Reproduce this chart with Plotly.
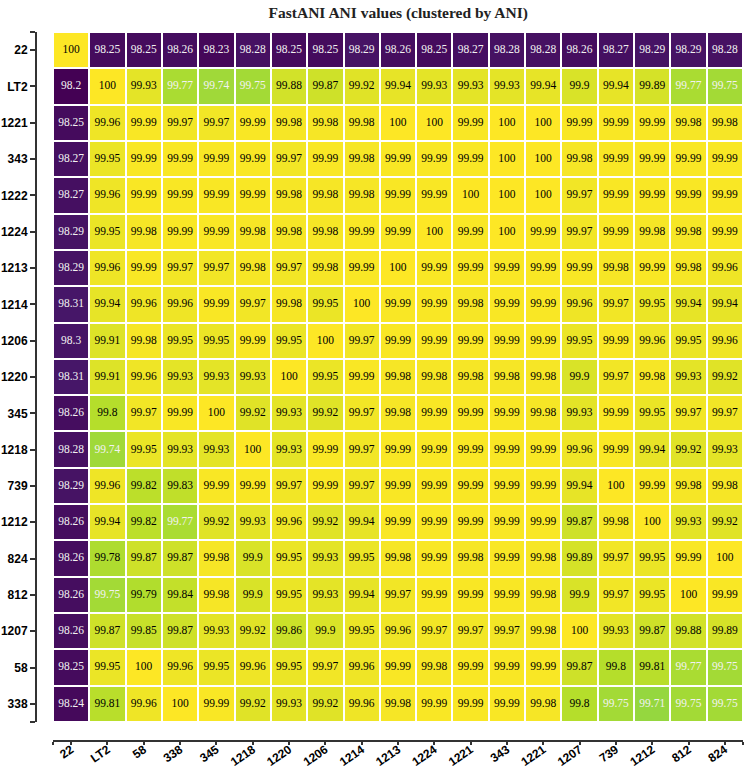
import plotly.graph_objects as go

col_labels = ["22", "LT2", "58", "338", "345", "1218", "1220", "1206", "1214", "1213",
              "1224", "1221", "343", "1221", "1207", "739", "1212", "812", "824"]
row_labels = ["22", "LT2", "1221", "343", "1222", "1224", "1213", "1214", "1206", "1220",
              "345", "1218", "739", "1212", "824", "812", "1207", "58", "338"]

ani_22   = [100, 98.25, 98.25, 98.26, 98.23, 98.28, 98.25, 98.25, 98.29, 98.26, 98.25, 98.27, 98.28, 98.28, 98.26, 98.27, 98.29, 98.29, 98.28]
ani_LT2  = [98.2, 100, 99.93, 99.77, 99.74, 99.75, 99.88, 99.87, 99.92, 99.94, 99.93, 99.93, 99.93, 99.94, 99.9, 99.94, 99.89, 99.77, 99.75]
ani_1221 = [98.25, 99.96, 99.99, 99.97, 99.97, 99.99, 99.98, 99.98, 99.98, 100, 100, 99.99, 100, 100, 99.99, 99.99, 99.99, 99.98, 99.98]
ani_343  = [98.27, 99.95, 99.99, 99.99, 99.99, 99.99, 99.97, 99.99, 99.98, 99.99, 99.99, 99.99, 100, 100, 99.98, 99.99, 99.99, 99.99, 99.99]
ani_1222 = [98.27, 99.96, 99.99, 99.99, 99.99, 99.99, 99.98, 99.98, 99.98, 99.99, 99.99, 100, 100, 100, 99.97, 99.99, 99.99, 99.99, 99.99]
ani_1224 = [98.29, 99.95, 99.98, 99.99, 99.99, 99.98, 99.98, 99.98, 99.99, 99.99, 100, 99.99, 100, 99.99, 99.97, 99.99, 99.98, 99.98, 99.99]
ani_1213 = [98.29, 99.96, 99.99, 99.97, 99.97, 99.98, 99.97, 99.98, 99.99, 100, 99.99, 99.99, 99.99, 99.99, 99.99, 99.98, 99.99, 99.98, 99.96]
ani_1214 = [98.31, 99.94, 99.96, 99.96, 99.99, 99.97, 99.98, 99.95, 100, 99.99, 99.99, 99.98, 99.99, 99.99, 99.96, 99.97, 99.95, 99.94, 99.94]
ani_1206 = [98.3, 99.91, 99.98, 99.95, 99.95, 99.99, 99.95, 100, 99.97, 99.99, 99.99, 99.99, 99.99, 99.99, 99.95, 99.99, 99.96, 99.95, 99.96]
ani_1220 = [98.31, 99.91, 99.96, 99.93, 99.93, 99.93, 100, 99.95, 99.99, 99.98, 99.98, 99.98, 99.98, 99.98, 99.9, 99.97, 99.98, 99.93, 99.92]
ani_345  = [98.26, 99.8, 99.97, 99.99, 100, 99.92, 99.93, 99.92, 99.97, 99.98, 99.99, 99.99, 99.99, 99.98, 99.93, 99.99, 99.95, 99.97, 99.97]
ani_1218 = [98.28, 99.74, 99.95, 99.93, 99.93, 100, 99.93, 99.99, 99.97, 99.99, 99.99, 99.99, 99.99, 99.99, 99.96, 99.99, 99.94, 99.92, 99.93]
ani_739  = [98.29, 99.96, 99.82, 99.83, 99.99, 99.99, 99.97, 99.99, 99.97, 99.99, 99.99, 99.99, 99.99, 99.99, 99.94, 100, 99.99, 99.98, 99.98]
ani_1212 = [98.26, 99.94, 99.82, 99.77, 99.92, 99.93, 99.96, 99.92, 99.94, 99.99, 99.99, 99.99, 99.99, 99.99, 99.87, 99.98, 100, 99.93, 99.92]
ani_824  = [98.26, 99.78, 99.87, 99.87, 99.98, 99.9, 99.95, 99.93, 99.95, 99.98, 99.99, 99.98, 99.99, 99.98, 99.89, 99.97, 99.95, 99.99, 100]
ani_812  = [98.26, 99.75, 99.79, 99.84, 99.98, 99.9, 99.95, 99.93, 99.94, 99.97, 99.99, 99.99, 99.99, 99.98, 99.9, 99.97, 99.95, 100, 99.99]
ani_1207 = [98.26, 99.87, 99.85, 99.87, 99.93, 99.92, 99.86, 99.9, 99.95, 99.96, 99.97, 99.97, 99.97, 99.98, 100, 99.93, 99.87, 99.88, 99.89]
ani_58   = [98.25, 99.95, 100, 99.96, 99.95, 99.96, 99.95, 99.97, 99.96, 99.99, 99.98, 99.99, 99.99, 99.99, 99.87, 99.8, 99.81, 99.77, 99.75]
ani_338  = [98.24, 99.81, 99.96, 100, 99.99, 99.92, 99.93, 99.92, 99.96, 99.98, 99.99, 99.99, 99.99, 99.98, 99.8, 99.75, 99.71, 99.75, 99.75]

z = [ani_22, ani_LT2, ani_1221, ani_343, ani_1222, ani_1224, ani_1213, ani_1214, ani_1206,
     ani_1220, ani_345, ani_1218, ani_739, ani_1212, ani_824, ani_812, ani_1207, ani_58, ani_338]

ncol = len(col_labels)
nrow = len(row_labels)
xs = list(range(ncol))
ys = list(range(nrow))

fig = go.Figure()
fig.add_trace(go.Heatmap(
    z=z, x=xs, y=ys, colorscale="Viridis", zmin=min(min(r) for r in z), zmax=max(max(r) for r in z),
    xgap=2, ygap=2, showscale=False, hoverinfo="skip",
))

tx, ty, tt, tc = [], [], [], []
for i, row in enumerate(z):
    for j, v in enumerate(row):
        tx.append(j)
        ty.append(i)
        tt.append(f"{v:g}")
        tc.append("#f2f2f2" if v <= 99.77 else "black")

fig.add_trace(go.Scatter(
    x=tx, y=ty, text=tt, mode="text",
    textfont=dict(family="Liberation Serif, Times New Roman, serif", size=11.5, color=tc),
    hoverinfo="skip", showlegend=False,
))

axis_font = dict(family="Liberation Sans, Arial, sans-serif", size=12, color="black")

fig.update_layout(
    width=750, height=769,
    margin=dict(l=36, r=7, t=32, b=28),
    plot_bgcolor="white", paper_bgcolor="white",
    title=dict(text="<b>FastANI ANI values (clustered by ANI)</b>",
               font=dict(family="Liberation Serif, Times New Roman, serif", size=15.5, color="#222"),
               x=0.531, xref="container", xanchor="center",
               y=0.984, yref="container", yanchor="middle"),
    xaxis=dict(
        domain=[0.024, 1], anchor="free", position=0,
        range=[-0.5, ncol - 0.5],
        tickvals=[-0.5] + xs + [ncol - 0.5],
        ticktext=[""] + [f"<b>{c}</b>" for c in col_labels] + [""],
        tickangle=-35, tickfont=axis_font, ticklabelstandoff=-7,
        showline=True, linecolor="#333", linewidth=2,
        ticks="outside", ticklen=3, tickwidth=1.5, tickcolor="#333",
        showgrid=False, zeroline=False, automargin=False,
    ),
    yaxis=dict(
        domain=[0.0268, 1], anchor="free", position=0,
        range=[nrow - 0.5, -0.5],
        tickvals=[-0.5] + ys + [nrow - 0.5],
        ticktext=[""] + [f"<b>{r}</b>" for r in row_labels] + [""],
        tickfont=axis_font,
        showline=True, linecolor="#333", linewidth=2,
        ticks="outside", ticklen=5, tickwidth=1.5, tickcolor="#333",
        showgrid=False, zeroline=False, automargin=False,
    ),
)

fig.write_html("out.html")
